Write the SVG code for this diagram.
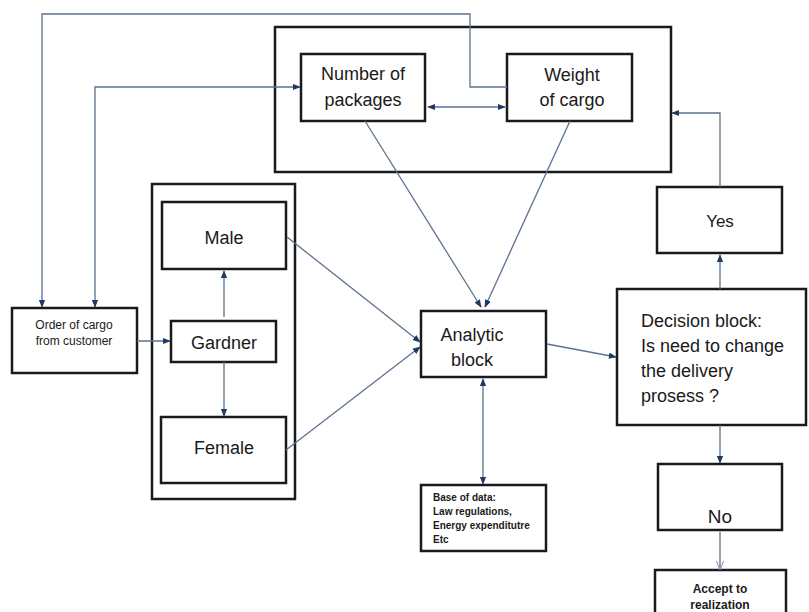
<svg xmlns="http://www.w3.org/2000/svg" width="809" height="612" viewBox="0 0 809 612">
<style>
.box{fill:#fff;stroke:#1a1a1a;stroke-width:2.5}
.frame{fill:none;stroke:#1a1a1a;stroke-width:2.5}
.t{font-family:"Liberation Sans",Arial,sans-serif;fill:#1a1a1a;text-anchor:middle}
.c{fill:none;stroke:#5d7190;stroke-width:1.3}
</style>
<defs>
<marker id="ah" viewBox="0 0 10 10" refX="9" refY="5" markerWidth="8" markerHeight="8" orient="auto-start-reverse" markerUnits="userSpaceOnUse">
<path d="M0,1 L10,5 L0,9 z" fill="#1f3864"/>
</marker>
<marker id="open" viewBox="0 0 10 10" refX="9" refY="5" markerWidth="9" markerHeight="9" orient="auto" markerUnits="userSpaceOnUse">
<path d="M0,1 L10,5 L0,9" fill="none" stroke="#7f93b0" stroke-width="1.2"/>
</marker>
</defs>
<g id="frame-cargo"><rect class="frame" x="275" y="27" width="396" height="145"/></g>
<g id="frame-gardner"><rect class="frame" x="152" y="184" width="143" height="315"/></g>
<g id="number"><rect class="box" x="301" y="54" width="124" height="67"/>
<text class="t" x="363" y="80" font-size="18">Number of</text><text class="t" x="363" y="106" font-size="18">packages</text></g>
<g id="weight"><rect class="box" x="507" y="54" width="125" height="67"/>
<text class="t" x="572" y="81" font-size="18">Weight</text><text class="t" x="572" y="106" font-size="18">of cargo</text></g>
<g id="male"><rect class="box" x="162" y="202" width="124" height="67"/>
<text class="t" x="224" y="244" font-size="18">Male</text></g>
<g id="gardner"><rect class="box" x="171" y="321" width="105" height="41"/>
<text class="t" x="224" y="349" font-size="18">Gardner</text></g>
<g id="female"><rect class="box" x="161" y="417" width="125" height="66"/>
<text class="t" x="224" y="454" font-size="18">Female</text></g>
<g id="order"><rect class="box" x="12" y="308" width="125" height="65"/>
<text class="t" x="74" y="329" font-size="12">Order of cargo</text><text class="t" x="74" y="345" font-size="12">from customer</text></g>
<g id="analytic"><rect class="box" x="421" y="311" width="125" height="66"/>
<text class="t" x="472" y="341" font-size="18">Analytic</text><text class="t" x="472" y="366" font-size="18">block</text></g>
<g id="decision"><rect class="box" x="617" y="289" width="189" height="136"/>
<text class="t" x="641" y="327" font-size="18" style="text-anchor:start">Decision block:</text>
<text class="t" x="641" y="352" font-size="18" style="text-anchor:start">Is need to change</text>
<text class="t" x="641" y="377" font-size="18" style="text-anchor:start">the delivery</text>
<text class="t" x="641" y="402" font-size="18" style="text-anchor:start">prosess ?</text></g>
<g id="yes"><rect class="box" x="657" y="187" width="125" height="66"/>
<text class="t" x="720" y="227" font-size="17">Yes</text></g>
<g id="base"><rect class="box" x="421" y="485" width="125" height="66"/>
<text class="t" x="433" y="501" font-size="10" font-weight="bold" style="text-anchor:start">Base of data:</text>
<text class="t" x="433" y="515" font-size="10" font-weight="bold" style="text-anchor:start">Law regulations,</text>
<text class="t" x="433" y="529" font-size="10" font-weight="bold" style="text-anchor:start">Energy expenditutre</text>
<text class="t" x="433" y="543" font-size="10" font-weight="bold" style="text-anchor:start">Etc</text></g>
<g id="no"><rect class="box" x="658" y="464" width="124" height="66"/>
<text class="t" x="720" y="523" font-size="19">No</text></g>
<g id="accept"><rect class="box" x="655" y="570" width="131" height="50"/>
<text class="t" x="720" y="593" font-size="12" font-weight="bold">Accept to</text>
<text class="t" x="720" y="609" font-size="12" font-weight="bold">realization</text></g>
<g id="connectors">
<path class="c" d="M507,87 H470 V14 H42 V307" marker-end="url(#ah)"/>
<path class="c" d="M95,307 V87 H300" marker-start="url(#ah)" marker-end="url(#ah)"/>
<path class="c" d="M428,107 H505" marker-start="url(#ah)" marker-end="url(#ah)"/>
<path class="c" d="M720,187 V113 H672" marker-end="url(#ah)"/>
<path class="c" d="M365,121 L481,307" marker-end="url(#ah)"/>
<path class="c" d="M570,121 L485,307" marker-end="url(#ah)"/>
<path class="c" d="M137,341 H170" marker-end="url(#ah)"/>
<path class="c" d="M224,317 V271" marker-end="url(#ah)"/>
<path class="c" d="M224,362 V416" marker-end="url(#ah)"/>
<path class="c" d="M287,237 L420,342" marker-end="url(#ah)"/>
<path class="c" d="M286,450 L420,347" marker-end="url(#ah)"/>
<path class="c" d="M547,344 L616,357" marker-end="url(#ah)"/>
<path class="c" d="M720,289 V255" marker-end="url(#ah)"/>
<path class="c" d="M483,379 V484" marker-start="url(#ah)" marker-end="url(#ah)"/>
<path class="c" d="M720,425 V463" marker-end="url(#ah)"/>
<path class="c" d="M720,532 V569" marker-end="url(#open)"/>
</g>
</svg>
